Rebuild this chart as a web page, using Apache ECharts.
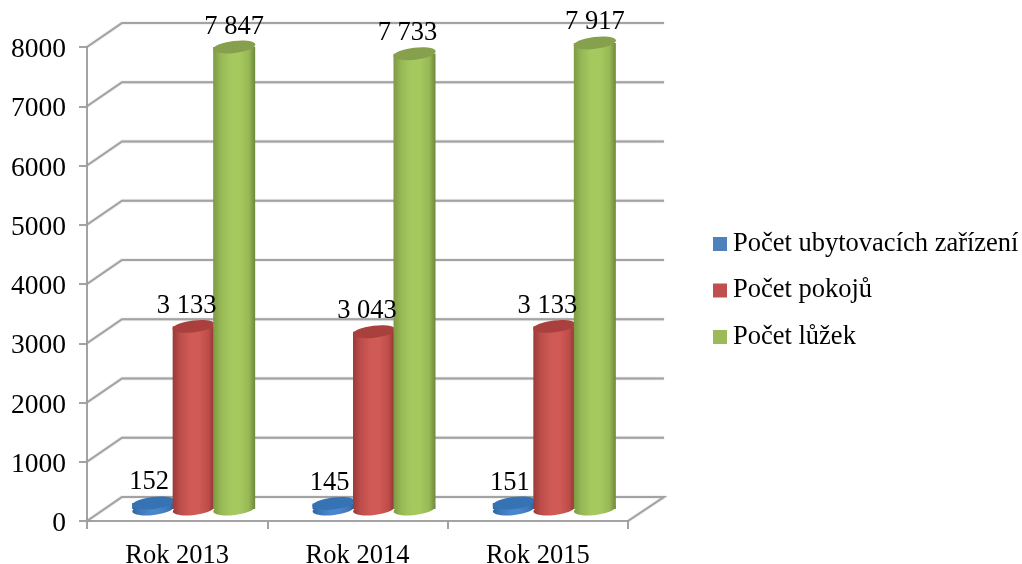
<!DOCTYPE html>
<html><head><meta charset="utf-8">
<style>html,body{margin:0;padding:0;background:#fff}#c{width:1022px;height:564px}</style>
<script src="https://cdn.jsdelivr.net/npm/echarts@6/dist/echarts.min.js"></script>
</head><body><div id="c"></div>
<script>
const categories = ['Rok 2013', 'Rok 2014', 'Rok 2015'];
const zarizeni = [152, 145, 151];
const pokoje = [3133, 3043, 3133];
const luzka = [7847, 7733, 7917];
const zarizeniLabels = ['152', '145', '151'];
const pokojeLabels = ['3 133', '3 043', '3 133'];
const luzkaLabels = ['7 847', '7 733', '7 917'];
const yTicks = [0, 1000, 2000, 3000, 4000, 5000, 6000, 7000, 8000];

const FONT = '"Liberation Serif","Times New Roman",serif';
const FS = 26.5;
const DEPTH_X = 35, DEPTH_Y = 24, LINE = '#a3a3a3';

function cylinderSeries(name, values, labels, slot, pal, labelDx) {
  return {
    name, type: 'custom', coordinateSystem: 'cartesian2d', clip: false, z: 5,
    itemStyle: { color: pal.legend },
    data: values.map((v, i) => [i, v]),
    encode: { x: 0, y: 1 },
    renderItem(params, api) {
      const i = api.value(0), v = api.value(1);
      const top = api.coord([i, v]), zero = api.coord([i, 0]);
      const w = 42, rx = w / 2, ry = 6, rot = 0.12;
      const cx = top[0] + 16.5 + slot * 40.5;
      const yTop = top[1] - 9, yBot = zero[1] - 12;
      const grad = {
        type: 'linear', x: 0, y: 0, x2: 1, y2: 0,
        colorStops: [
          { offset: 0, color: pal.edgeL }, { offset: 0.18, color: pal.soft },
          { offset: 0.42, color: pal.mid }, { offset: 0.62, color: pal.mid },
          { offset: 0.85, color: pal.soft }, { offset: 1, color: pal.edgeR }
        ]
      };
      return {
        type: 'group',
        children: [
          { type: 'ellipse', x: cx, y: yBot, rotation: rot,
            shape: { cx: 0, cy: 0, rx, ry }, style: { fill: grad } },
          { type: 'rect', shape: { x: cx - rx, y: yTop, width: w, height: yBot - yTop }, style: { fill: grad } },
          { type: 'ellipse', x: cx, y: yTop, rotation: rot,
            shape: { cx: 0, cy: 0, rx: rx + 0.3, ry }, style: { fill: pal.top } },
          { type: 'text', z2: 100, x: cx + labelDx[i], y: yTop - 20.5,
            style: { text: labels[i], fill: '#000', font: FS + 'px ' + FONT, align: 'center', verticalAlign: 'middle' } }
        ]
      };
    }
  };
}

const wallSeries = {
  type: 'custom', coordinateSystem: 'cartesian2d', clip: false, silent: true, z: 1,
  data: yTicks.map(t => [0, t]),
  encode: { x: 0, y: 1 },
  renderItem(params, api) {
    const cs = params.coordSys;
    const y = api.coord([0, api.value(1)])[1];
    const x0 = cs.x, x1 = cs.x + cs.width;
    const pts = [[x0, y], [x0 + DEPTH_X, y - DEPTH_Y], [x1 + DEPTH_X + 1, y - DEPTH_Y]];
    if (api.value(1) === 0) pts.push([x1, y]);
    return {
      type: 'polyline', shape: { points: pts },
      style: { fill: null, stroke: LINE, lineWidth: 2, shadowBlur: 1.5, shadowColor: 'rgba(0,0,0,0.25)' }
    };
  }
};

const chart = echarts.init(document.getElementById('c'), null, { renderer: 'canvas' });
chart.setOption({
  animation: false,
  backgroundColor: '#fff',
  grid: { left: 87, width: 541, top: 47, bottom: 43, outerBoundsMode: 'none' },
  legend: {
    orient: 'vertical', left: 713, top: 229, padding: 0, itemGap: 16.5,
    itemWidth: 14, itemHeight: 14, icon: 'rect', selectedMode: false,
    data: ['Počet ubytovacích zařízení', 'Počet pokojů', 'Počet lůžek'],
    textStyle: { fontFamily: FONT, fontSize: FS, color: '#000', padding: [2, 0, 0, 1], lineHeight: 28 }
  },
  xAxis: {
    type: 'category', data: categories,
    axisLine: { lineStyle: { color: LINE, width: 2 } },
    axisTick: { show: true, alignWithLabel: false, length: 8, lineStyle: { color: LINE, width: 2 } },
    axisLabel: { fontFamily: FONT, fontSize: FS, color: '#000', margin: 22 }
  },
  yAxis: {
    type: 'value', min: 0, max: 8000, interval: 1000,
    axisLine: { show: true, lineStyle: { color: LINE, width: 2 } },
    axisTick: { show: true, length: 8, lineStyle: { color: LINE, width: 2 } },
    splitLine: { show: false },
    axisLabel: { fontFamily: FONT, fontSize: 27.5, color: '#000', margin: 21, verticalAlign: 'top', lineHeight: 6, formatter: v => String(v) }
  },
  series: [
    wallSeries,
    cylinderSeries('Počet ubytovacích zařízení', zarizeni, zarizeniLabels, -1,
      { legend: '#4f81bd', edgeL: '#2f66a3', soft: '#3f78ba', mid: '#4a86cb', edgeR: '#2c5f99', top: '#3573b5' }, [-4, -4, -4]),
    cylinderSeries('Počet pokojů', pokoje, pokojeLabels, 0,
      { legend: '#c0504d', edgeL: '#9a3a38', soft: '#bd4d4a', mid: '#d05a56', edgeR: '#8c3331', top: '#a9403d' }, [-7, -7, -7]),
    cylinderSeries('Počet lůžek', luzka, luzkaLabels, 1,
      { legend: '#9bbb59', edgeL: '#7d9a44', soft: '#97b855', mid: '#a6c95f', edgeR: '#6e883c', top: '#86a04e' }, [0, -7, 0])
  ]
});
</script></body></html>
